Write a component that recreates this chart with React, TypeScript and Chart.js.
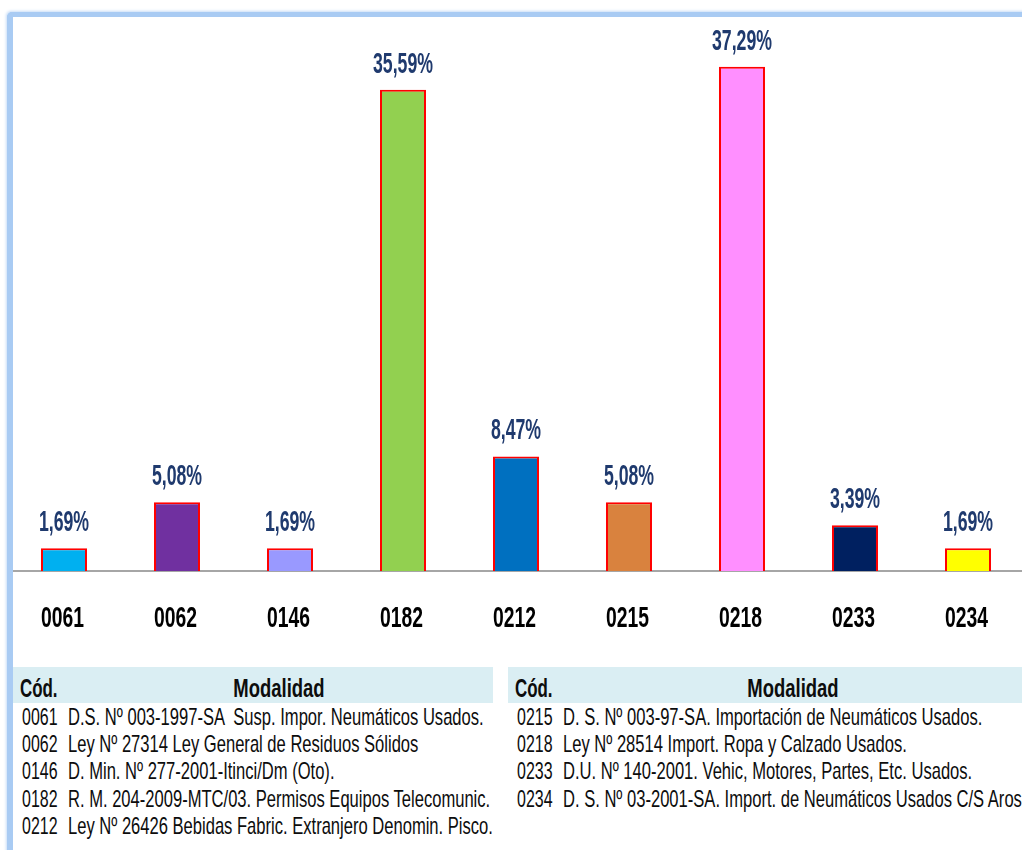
import React, { useEffect, useRef } from "react";
import { Chart, registerables } from "chart.js";

Chart.register(...registerables);

const categories = ["0061", "0062", "0146", "0182", "0212", "0215", "0218", "0233", "0234"];
const values = [1.69, 5.08, 1.69, 35.59, 8.47, 5.08, 37.29, 3.39, 1.69];
const barColors = ["#00b0f0", "#7030a0", "#9999ff", "#92d050", "#0070c0", "#d9823e", "#ff8fff", "#002060", "#ffff00"];

const leftCodes = ["0061", "0062", "0146", "0182", "0212"];
const leftDescs = [
  "D.S. Nº 003-1997-SA  Susp. Impor. Neumáticos Usados.",
  "Ley Nº 27314 Ley General de Residuos Sólidos",
  "D. Min. Nº 277-2001-Itinci/Dm (Oto).",
  "R. M. 204-2009-MTC/03. Permisos Equipos Telecomunic.",
  "Ley Nº 26426 Bebidas Fabric. Extranjero Denomin. Pisco.",
];
const rightCodes = ["0215", "0218", "0233", "0234"];
const rightDescs = [
  "D. S. Nº 003-97-SA. Importación de Neumáticos Usados.",
  "Ley Nº 28514 Import. Ropa y Calzado Usados.",
  "D.U. Nº 140-2001. Vehic, Motores, Partes, Etc. Usados.",
  "D. S. Nº 03-2001-SA. Import. de Neumáticos Usados C/S Aros",
];

const FONT = '"Liberation Sans", Arial, sans-serif';

const labelPlugin = {
  id: "condensedLabels",
  afterDatasetsDraw(chart: any) {
    const ctx = chart.ctx;
    const meta = chart.getDatasetMeta(0);
    ctx.save();
    ctx.textAlign = "center";
    ctx.textBaseline = "alphabetic";
    ctx.fillStyle = "#1f3a6e";
    ctx.font = `bold 29px ${FONT}`;
    meta.data.forEach((bar: any, i: number) => {
      const txt = values[i].toFixed(2).replace(".", ",") + "%";
      ctx.save();
      ctx.translate(bar.x, bar.y - 17);
      ctx.scale(0.61, 1);
      ctx.fillText(txt, 0, 0);
      ctx.restore();
    });
    const xs = chart.scales.x;
    ctx.fillStyle = "#000000";
    ctx.font = `bold 30px ${FONT}`;
    categories.forEach((c, i) => {
      ctx.save();
      ctx.translate(xs.getPixelForTick(i) - 1.5, 626.5);
      ctx.scale(0.645, 1);
      ctx.fillText(c, 0, 0);
      ctx.restore();
    });
    ctx.restore();
  },
};

function Line({ x, baseline, size, bold, text, center, sx }: any) {
  const top = baseline - (bold ? 22 : 20.3) * (size / (bold ? 26 : 24));
  return (
    <div
      style={{
        position: "absolute",
        left: x,
        top,
        fontFamily: FONT,
        fontSize: size,
        lineHeight: `${size}px`,
        fontWeight: bold ? "bold" : "normal",
        color: "#0d0d0d",
        whiteSpace: "pre",
        transform: center ? `translateX(-50%) scaleX(${sx})` : `scaleX(${sx})`,
        transformOrigin: center ? "center top" : "left top",
      }}
    >
      {text}
    </div>
  );
}

function Table({ x0, bandLeft, bandRight, modalCenter, codes, descs }: any) {
  const baselines = [725, 752.3, 779.6, 806.9, 834.2];
  return (
    <>
      <div
        style={{
          position: "absolute",
          left: bandLeft,
          top: 667,
          width: bandRight - bandLeft,
          height: 36,
          background: "#daeef3",
        }}
      />
      <Line x={x0 - 2} baseline={697} size={26} bold text="Cód." sx={0.65} />
      <div style={{ position: "absolute", left: modalCenter, top: 0 }}>
        <Line x={0} baseline={697} size={26} bold text="Modalidad" center sx={0.71} />
      </div>
      {codes.map((c: string, i: number) => (
        <React.Fragment key={c}>
          <Line x={x0} baseline={baselines[i]} size={24} text={c} sx={0.665} />
          <Line x={x0 + 46} baseline={baselines[i]} size={24} text={descs[i]} sx={0.69} />
        </React.Fragment>
      ))}
    </>
  );
}

export default function App() {
  const ref = useRef<HTMLCanvasElement>(null);
  useEffect(() => {
    if (!ref.current) return;
    const chart = new Chart(ref.current, {
      type: "bar",
      data: {
        labels: categories,
        datasets: [
          {
            data: values,
            backgroundColor: barColors,
            borderColor: "#ff0000",
            borderWidth: 2,
            categoryPercentage: 1,
            barPercentage: 0.407,
          },
        ],
      },
      options: {
        animation: false,
        responsive: false,
        devicePixelRatio: 1,
        layout: { padding: { left: 7.5, right: 5.5, top: 30, bottom: 79 } },
        plugins: { legend: { display: false }, tooltip: { enabled: false } },
        scales: {
          x: {
            grid: { display: false, drawTicks: false },
            ticks: { display: false },
            border: { display: true, color: "#a6a6a6", width: 2 },
          },
          y: { display: false, min: 0, max: 40 },
        },
      },
      plugins: [labelPlugin],
    });
    return () => chart.destroy();
  }, []);

  return (
    <div
      style={{
        position: "absolute",
        left: 0,
        top: 0,
        width: 1022,
        height: 850,
        overflow: "hidden",
        background: "#fff",
      }}
    >
      <canvas ref={ref} width={1030} height={650} style={{ position: "absolute", left: 0, top: 0 }} />
      <Table x0={22} bandLeft={13} bandRight={493} modalCenter={279} codes={leftCodes} descs={leftDescs} />
      <Table x0={517} bandLeft={508} bandRight={1030} modalCenter={793} codes={rightCodes} descs={rightDescs} />
      <div
        style={{
          position: "absolute",
          left: 7,
          top: 12,
          width: 1100,
          height: 900,
          borderLeft: "6px solid #a9cbf3",
          borderTop: "5px solid #a9cbf3",
          borderTopLeftRadius: 5,
          boxShadow: "-1px -1px 3px #c8ddf7",
          pointerEvents: "none",
        }}
      />
    </div>
  );
}
